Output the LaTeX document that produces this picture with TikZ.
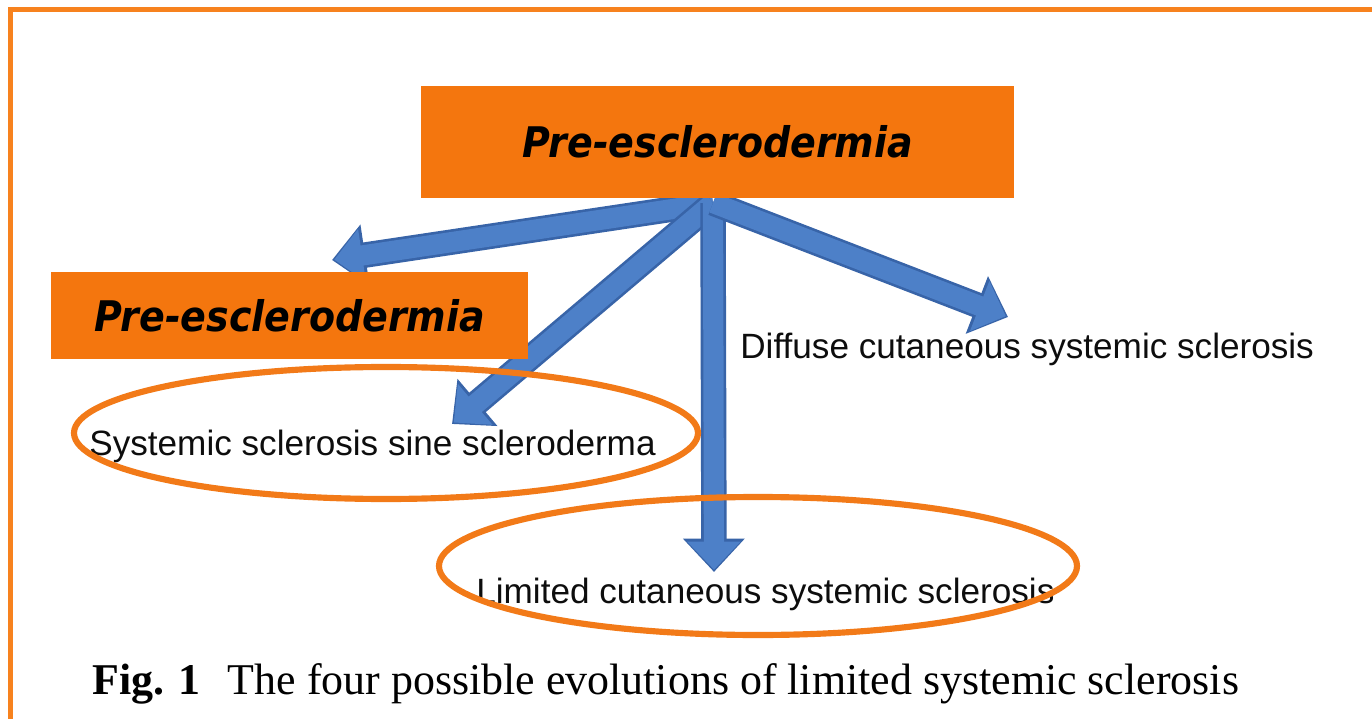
\documentclass[tikz,border=0pt]{standalone}
\usepackage{fontspec}
\setmainfont{Liberation Serif}
\newfontfamily\labelfont{Liberation Sans}
\newfontfamily\titlefont[FakeStretch=0.9]{DejaVu Sans Bold Oblique}
\usetikzlibrary{arrows.meta}

\definecolor{boxorange}{RGB}{244,118,14}
\definecolor{ringorange}{RGB}{242,122,24}
\definecolor{frameorange}{RGB}{247,130,30}
\definecolor{arrowblue}{RGB}{77,128,200}
\definecolor{arrowedge}{RGB}{56,100,168}

\begin{document}
\begin{tikzpicture}[x=0.02cm, y=-0.02cm,
    titlebox/.style={fill=boxorange, inner sep=0pt, font=\titlefont\fontsize{24}{28}\selectfont},
    outcome/.style={anchor=base west, inner sep=0pt, text=black!95, font=\labelfont\fontsize{20}{24}\selectfont},
    ring/.style={draw=ringorange, line width=3.5pt},
    flow/.style={draw=arrowedge, line width=14.5pt, -{Triangle[length=19pt,width=34pt]},
        postaction={draw=arrowblue, line width=11.5pt, -{Triangle[length=16pt,width=29.5pt]}, shorten >=1.3pt}}]
    \useasboundingbox (0,0) rectangle (1372,719);
    \clip (0,0) rectangle (1372,719);

    % frame
    \draw[frameorange, line width=3.4pt] (10.5,740) -- (10.5,9.5) -- (1400,9.5);

    % arrows
    \coordinate (hub) at (713,203);
    \coordinate (tippre) at (332,260);
    \coordinate (tipsine) at (452,424);
    \coordinate (tiplim) at (714,572);
    \coordinate (tipdiff) at (1008,317);
    \draw[flow] (hub) -- (tippre);
    \draw[flow] (hub) -- (tipsine);
    \draw[flow] (hub) -- (tiplim);
    \draw[flow] (hub) -- (tipdiff);

    \node[titlebox, minimum width=11.86cm, minimum height=2.24cm] (pretop) at (717.5,142) {Pre-esclerodermia};
    \node[titlebox, minimum width=9.54cm, minimum height=1.74cm] (preleft) at (289.5,315.5) {Pre-esclerodermia};

    \node[outcome] (diffuse) at (740,358) {Diffuse cutaneous systemic sclerosis};
    \node[outcome] (sine) at (89,455) {Systemic sclerosis sine scleroderma};
    \node[outcome] (limited) at (476,603) {Limited cutaneous systemic sclerosis};

    \draw[ring] (386,433) ellipse [x radius=312, y radius=66];
    \draw[ring] (758,566) ellipse [x radius=319, y radius=69];

    \node[anchor=base west, inner sep=0pt, font=\fontsize{25}{29}\selectfont] (caption) at (92,694)
        {\textbf{Fig. 1}\hspace{9pt} The four possible evolutions of limited systemic sclerosis};
\end{tikzpicture}
\end{document}
